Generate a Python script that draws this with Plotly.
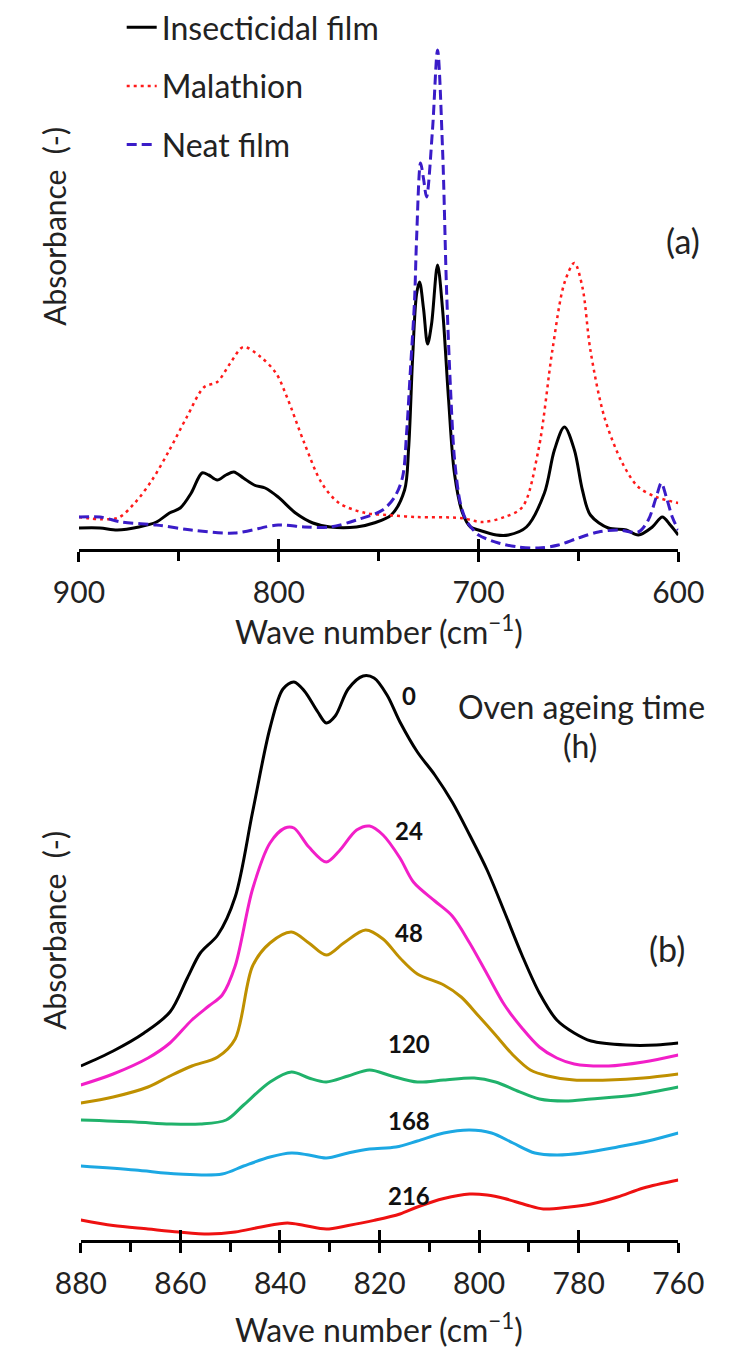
import plotly.graph_objects as go

W, H = 734, 1348

# ---------------- Panel (a) data ----------------
ins_x = [900, 889.5, 880.8, 870, 861.2, 854.7, 849.3, 843.8, 838.4, 835.1,
         830.8, 826.4, 822.5, 817.7, 812.3, 806.8, 800.3, 791.6, 782.9, 774.2,
         761.1, 752.4, 743.7, 737, 735, 733, 731, 729.5, 727.5, 725.5,
         723.5, 720.5, 718, 715, 712, 708, 704, 700, 691, 685,
         676, 667, 662, 657, 652, 648, 644, 635, 626, 620,
         613, 608, 604, 600]
ins_y = [21, 21, 19, 22, 27, 36, 41, 56, 76, 74,
         69, 74, 77, 71, 64, 61, 52, 36, 26, 22,
         22, 26, 34, 59, 100, 190, 255, 267, 240, 205,
         225, 284, 240, 150, 75, 36, 22, 19, 14, 14,
         22, 56, 99, 122, 99, 59, 34, 21, 19, 14,
         22, 32, 24, 14]

mal_x = [900, 880.8, 872.1, 863.4, 854.7, 846, 837.3, 830.8, 824.2, 817.7,
         809, 801.4, 795.9, 787.2, 778.5, 769.8, 756.7, 745.9, 731, 709,
         698, 687, 678, 670, 663, 657, 652, 648, 644, 637,
         628, 620, 611, 600]
mal_y = [32, 31, 46, 69, 99, 132, 162, 167, 186, 202,
         192, 176, 152, 106, 66, 46, 36, 34, 32, 31,
         27, 32, 42, 99, 199, 266, 286, 262, 199, 132,
         86, 62, 52, 46]

neat_x = [900, 889.5, 878.7, 861.2, 843.8, 822, 800.3, 787.2, 774.2, 761.1,
          748, 742, 738, 736, 734, 732, 731, 729, 727.5, 726,
          723, 720.5, 718, 716, 714, 712, 709, 706, 703, 700,
          690, 680, 670, 660, 650, 640, 630, 620, 615, 611,
          608.5, 606, 603, 600]
neat_y = [32, 32, 27, 24, 19, 16, 24, 22, 22, 29,
          39, 52, 72, 116, 182, 249, 310, 386, 370, 352,
          420, 499, 400, 260, 160, 90, 45, 28, 20, 14,
          6, 2, 1, 4, 11, 17, 19, 17, 29, 52,
          66, 52, 32, 19]

a_ticks = [900, 800, 700, 600]
a_ticklabels = ["900", "800", "700", "600"]
a_minor = [850, 750, 650]

# ---------------- Panel (b) data ----------------
h0_x = [880, 873.5, 867.3, 862.1, 858.6, 856, 852.5, 849, 845.5, 842,
        839.4, 837.2, 835.1, 832.4, 830.7, 828.9, 826.3, 823.3, 821.1, 818.5,
        815.9, 812.4, 808.9, 805.4, 801.9, 798.4, 794.9, 791.4, 787.9, 784.4,
        780.9, 777.5, 770.5, 764.4, 760]
h0_y = [174, 189, 207, 228, 262, 287, 305, 343, 428, 512,
        551, 558, 549, 528, 517, 524, 551, 564, 562, 545,
        518, 488, 465, 438, 405, 370, 328, 285, 247, 220,
        207, 199, 195, 195, 197]

h24_x = [880, 873.5, 866.5, 862.1, 857.7, 854.3, 851.6, 849, 845.5, 842,
         839, 837.2, 834.2, 830.7, 828.1, 824.6, 822, 819.3, 815.9, 813.2,
         808.9, 805.4, 801.9, 798.4, 794.9, 791.4, 787.9, 784.4, 780.9, 774,
         767, 760]
h24_y = [155, 166, 182, 197, 220, 234, 245, 274, 351, 397,
         412, 412, 393, 378, 389, 410, 414, 405, 382, 358,
         339, 324, 297, 266, 235, 212, 193, 182, 176, 174,
         178, 185]

h48_x = [880, 873.5, 866.5, 862.1, 857.7, 852.5, 849, 845.5, 842, 837.7,
         834.2, 830.7, 827.2, 822.8, 819.3, 815.9, 812.4, 807.1, 803.6, 800.1,
         796.7, 793.2, 789.7, 786.2, 780.9, 774, 767, 760]
h48_y = [137, 143, 153, 164, 174, 183, 201, 274, 297, 308,
         297, 285, 297, 310, 301, 282, 266, 255, 243, 224,
         205, 185, 170, 164, 160, 160, 162, 166]

h120_x = [880, 869.1, 862.1, 856, 850.8, 847.3, 842, 837.7, 834.2, 830.7,
          826.3, 822, 817.6, 812.4, 807.1, 801, 796.7, 792.3, 787.9, 782.7,
          777.5, 768.7, 760]
h120_y = [120, 118, 116, 116, 120, 135, 158, 168, 162, 158,
          164, 170, 164, 158, 160, 162, 158, 149, 141, 139,
          141, 145, 153]

h168_x = [880, 869.1, 860.4, 851.6, 847.3, 842, 837.7, 834.2, 830.7, 826.3,
          822, 816.7, 812.4, 807.1, 801.9, 797.5, 793.2, 788.8, 784.4, 779.2,
          772.2, 766.1, 760]
h168_y = [74, 70, 66, 66, 74, 83, 87, 85, 82, 87,
          91, 93, 99, 107, 110, 107, 97, 87, 85, 87,
          93, 99, 107]

h216_x = [880, 873.5, 866.5, 860.4, 854.3, 849, 843.8, 838.5, 835.1, 830.7,
          826.3, 821.1, 815.9, 812.4, 807.1, 801.9, 798.4, 794.9, 790.5, 787.1,
          781.8, 777.5, 772.2, 767, 760]
h216_y = [20, 14.5, 11, 8, 6, 8, 13, 17, 14.5, 11,
          14.5, 19.6, 26, 33, 41.5, 46, 45, 41.5, 35, 31,
          33, 36, 43, 52, 60]

b_ticks = [880, 860, 840, 820, 800, 780, 760]
b_ticklabels = ["880", "860", "840", "820", "800", "780", "760"]
b_minor = [870, 850, 830, 810, 790, 770]

ageing_labels = ["0", "24", "48", "120", "168", "216"]
ageing_label_y = [545, 410, 308, 197, 120, 45]
ageing_label_x = 814

FONT = "Lato"
TXT = "#222222"

def px(p):
    return p / W

def py(p):
    return 1 - p / H

fig = go.Figure()

SM = 0.9
fig.add_trace(go.Scatter(x=ins_x, y=ins_y, name="Insecticidal film", mode="lines",
                         line=dict(color="black", width=3, shape="spline", smoothing=SM),
                         xaxis="x", yaxis="y", legendgroup="g1"))
fig.add_trace(go.Scatter(x=mal_x, y=mal_y, name="Malathion", mode="lines",
                         line=dict(color="#FF1A1A", width=2.5, dash="3px,4px", shape="spline", smoothing=SM),
                         xaxis="x", yaxis="y", legendgroup="g2"))
fig.add_trace(go.Scatter(x=neat_x, y=neat_y, name="Neat film", mode="lines",
                         line=dict(color="#3A1CC8", width=3, dash="10px,5px", shape="spline", smoothing=SM),
                         xaxis="x", yaxis="y", legendgroup="g3"))

b_series = [(h0_x, h0_y, "#000000"), (h24_x, h24_y, "#F21FC8"), (h48_x, h48_y, "#BF9000"),
            (h120_x, h120_y, "#20B26B"), (h168_x, h168_y, "#1CA8E3"), (h216_x, h216_y, "#EE1111")]
for (xs, ys, c), lab in zip(b_series, ageing_labels):
    fig.add_trace(go.Scatter(x=xs, y=ys, name=lab + " h", mode="lines", showlegend=False,
                             line=dict(color=c, width=3, shape="spline", smoothing=SM),
                             xaxis="x2", yaxis="y2"))

# invisible helpers so overlay axes (upward tick halves) get drawn
fig.add_trace(go.Scatter(x=[900, 600], y=[-50, -50], mode="markers", marker=dict(opacity=0),
                         showlegend=False, hoverinfo="skip", xaxis="x3", yaxis="y"))
fig.add_trace(go.Scatter(x=[880, 760], y=[-50, -50], mode="markers", marker=dict(opacity=0),
                         showlegend=False, hoverinfo="skip", xaxis="x4", yaxis="y2"))

tickfont = dict(family=FONT, size=30, color=TXT)
common_x = dict(showgrid=False, zeroline=False, showline=True, linewidth=3, linecolor="black",
                ticks="outside", ticklen=10, tickwidth=3, tickcolor="black", tickfont=tickfont,
                tickmode="array", ticklabelstandoff=5)

fig.update_layout(
    width=W, height=H, margin=dict(l=0, r=0, t=0, b=0),
    paper_bgcolor="white", plot_bgcolor="white",
    xaxis=dict(domain=[px(57), px(702)], range=[900, 600], anchor="y",
               tickvals=a_ticks, ticktext=a_ticklabels,
               minor=dict(tickmode="array", tickvals=a_minor, ticks="outside", ticklen=9,
                          tickwidth=3, tickcolor="black", showgrid=False),
               **common_x),
    yaxis=dict(domain=[py(549), py(39)], range=[0, 510], visible=False, anchor="x"),
    xaxis3=dict(overlaying="x", anchor="y", range=[900, 600], showgrid=False, zeroline=False,
                showline=False, ticks="inside", ticklen=10, tickwidth=3, tickcolor="black",
                tickmode="array", tickvals=a_ticks, showticklabels=False),
    xaxis2=dict(domain=[px(59), px(702)], range=[880, 760], anchor="y2",
                tickvals=b_ticks, ticktext=b_ticklabels,
                minor=dict(tickmode="array", tickvals=b_minor, ticks="outside", ticklen=9,
                           tickwidth=3, tickcolor="black", showgrid=False),
                **common_x),
    yaxis2=dict(domain=[py(1240), py(640)], range=[0, 600], visible=False, anchor="x2"),
    xaxis4=dict(overlaying="x2", anchor="y2", range=[880, 760], showgrid=False, zeroline=False,
                showline=False, ticks="inside", ticklen=10, tickwidth=3, tickcolor="black",
                tickmode="array", tickvals=b_ticks, showticklabels=False),
    showlegend=True,
    legend=dict(x=px(103), y=py(0), xanchor="left", yanchor="top",
                font=dict(family=FONT, size=32, color=TXT), bgcolor="rgba(0,0,0,0)",
                tracegroupgap=14, itemwidth=30),
)

def note(text, x, y, size=32, xref="paper", yref="paper", angle=0, color=TXT):
    if xref == "paper":
        x = px(x)
    if yref == "paper":
        y = py(y)
    return dict(text=text, x=x, y=y, xref=xref, yref=yref, textangle=angle,
                xanchor="center", yanchor="middle", showarrow=False,
                font=dict(family=FONT, size=size, color=color))

ann = [
    note("Absorbance  (-)", 30, 226, size=30, angle=-90),
    note("Absorbance  (-)", 30, 930, size=30, angle=-90),
    note("Wave number (cm<sup>\u22121</sup>)", 380, 630),
    note("Wave number (cm<sup>\u22121</sup>)", 380, 1328),
    note("(a)", 707, 240, size=34),
    note("(b)", 690, 948, size=34),
    note("Oven ageing time", 598, 706),
    note("(h)", 596, 746),
]
for lab, yy in zip(ageing_labels, ageing_label_y):
    ann.append(note("<b>" + lab + "</b>", ageing_label_x, yy, size=24,
                    xref="x2", yref="y2", color="#111111"))
fig.update_layout(annotations=ann)

fig.write_html("out.html")
